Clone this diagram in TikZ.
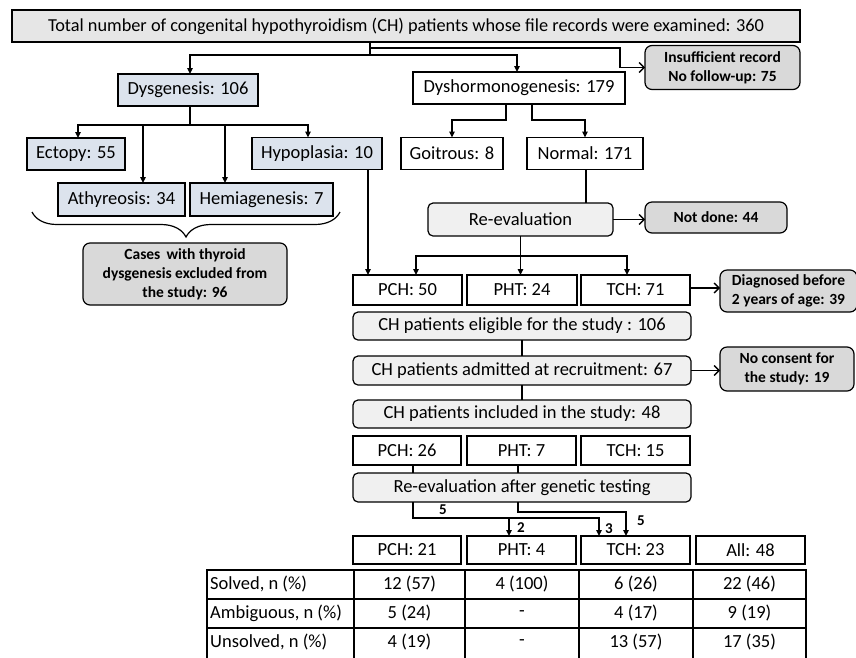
\documentclass[tikz,border=0pt]{standalone}
\usepackage{fontspec}
\setmainfont{Carlito}
\usetikzlibrary{arrows.meta,decorations.pathreplacing}
\definecolor{gtop}{HTML}{E6E6E6}
\definecolor{gside}{HTML}{D9D9D9}
\definecolor{glite}{HTML}{F0F0F0}
\definecolor{blueg}{HTML}{DCE3ED}
\tikzset{
  base/.style={draw, line width=1.2pt, inner sep=0pt, outer sep=0pt, align=center,
    font=\fontsize{18.5pt}{20pt}\selectfont},
  wbox/.style={base, fill=white},
  bbox/.style={base, fill=blueg, line width=1.6pt},
  gbox/.style={base, fill=glite, rounded corners=5pt},
  sbox/.style={base, fill=gside, rounded corners=7pt, font=\bfseries\fontsize{15.5pt}{19pt}\selectfont},
  conn/.style={line width=1.3pt},
  darr/.style={conn, -{Triangle[length=6pt,width=5.5pt]}},
  sarr/.style={conn, -{Straight Barb[length=5pt,width=10pt,line width=1.3pt]}},
  lab/.style={font=\bfseries\fontsize{15pt}{17pt}\selectfont, inner sep=0pt},
  tcell/.style={font=\fontsize{18.5pt}{20pt}\selectfont, inner sep=0pt},
  tline/.style={line width=1.6pt},
}
\begin{document}
\begin{tikzpicture}[x=1pt,y=-1pt]
\useasboundingbox (0,0) rectangle (856,657);
% nodes
\node[base, fill=gtop, minimum width=788pt, minimum height=32pt, font=\fontsize{18.3pt}{20pt}\selectfont] (top) at (406,26)
  {Total number of congenital hypothyroidism (CH) patients whose file records were examined: 360};
\node[sbox, minimum width=155pt, minimum height=44pt] (ins) at (722.5,67.5) {Insufficient record\\No follow-up: 75};
\node[bbox, minimum width=140pt, minimum height=32pt] (dys) at (188,90) {Dysgenesis: 106};
\node[wbox, minimum width=212pt, minimum height=32pt] (dysh) at (519,88) {Dyshormonogenesis: 179};
\node[bbox, minimum width=98pt, minimum height=32pt] (ect) at (76,154) {Ectopy: 55};
\node[bbox, minimum width=127pt, minimum height=33pt] (ath) at (121.5,199.5) {Athyreosis: 34};
\node[bbox, minimum width=143pt, minimum height=33pt] (hemi) at (261.5,199.5) {Hemiagenesis: 7};
\node[bbox, minimum width=130pt, minimum height=32pt] (hypo) at (317,153.5) {Hypoplasia: 10};
\node[wbox, minimum width=102pt, minimum height=32pt] (goit) at (452,153.5) {Goitrous: 8};
\node[wbox, minimum width=116pt, minimum height=32pt] (norm) at (585,153.5) {Normal: 171};
\node[sbox, minimum width=204pt, minimum height=62pt] (excl) at (185,274) {Cases\, with thyroid\\dysgenesis excluded from\\the study: 96};
\node[gbox, minimum width=185pt, minimum height=33pt] (reev) at (520.5,219.5) {Re-evaluation};
\node[sbox, minimum width=142pt, minimum height=31pt] (notdone) at (716,217.5) {Not done: 44};
\node[wbox, minimum width=109pt, minimum height=30pt] (pch50) at (407.5,290) {PCH: 50};
\node[wbox, minimum width=110pt, minimum height=30pt] (pht24) at (522,290) {PHT: 24};
\node[wbox, minimum width=109pt, minimum height=30pt] (tch71) at (635.5,290) {TCH: 71};
\node[sbox, minimum width=137pt, minimum height=42pt] (diag) at (788.5,291) {Diagnosed before\\2 years of age: 39};
\node[gbox, minimum width=338pt, minimum height=28pt] (elig) at (522,326) {CH patients eligible for the study : 106};
\node[gbox, minimum width=338pt, minimum height=29pt] (adm) at (522,370.5) {CH patients admitted at recruitment: 67};
\node[sbox, minimum width=134pt, minimum height=44pt] (nocons) at (787,369) {No consent for\\the study: 19};
\node[gbox, minimum width=338pt, minimum height=28pt] (incl) at (522,414) {CH patients included in the study: 48};
\node[wbox, minimum width=108pt, minimum height=29pt] (pch26) at (407,450.5) {PCH: 26};
\node[wbox, minimum width=109pt, minimum height=29pt] (pht7) at (521.5,450.5) {PHT: 7};
\node[wbox, minimum width=109pt, minimum height=29pt] (tch15) at (635.5,450.5) {TCH: 15};
\node[gbox, minimum width=338pt, minimum height=29pt] (reg) at (522,487.5) {Re-evaluation after genetic testing};
\node[wbox, minimum width=108pt, minimum height=28pt] (pch21) at (407,550) {PCH: 21};
\node[wbox, minimum width=109pt, minimum height=28pt] (pht4) at (521.5,550) {PHT: 4};
\node[wbox, minimum width=109pt, minimum height=28pt] (tch23) at (635.5,550) {TCH: 23};
\node[wbox, minimum width=109pt, minimum height=28pt] (all48) at (750.5,550) {All: 48};
% top connectors
\draw[conn] ([xshift=-36pt]top.south) -- ++(0,13) coordinate (tj);
\draw[darr] (tj) -| ([xshift=2pt]dys.north);
\draw[darr] (tj) -| ([xshift=-2pt]dysh.north);
\draw[sarr] ([xshift=-36pt]top.south) ++(0,6) -- ++(250,0) |- (ins.west);
% dysgenesis tree
\draw[line width=2.8pt] ([xshift=2pt]dys.south) -- ++(0,19) coordinate (db);
\draw[darr] (db) -| ([xshift=2pt]ect.north);
\draw[darr] (db) -| ([xshift=21.5pt]ath.north);
\draw[darr] (db) -| ([xshift=-36.5pt]hemi.north);
\draw[darr] (db) -| ([xshift=-9pt]hypo.north);
\draw[darr] ([xshift=51pt]hypo.south) -- ([xshift=-39.5pt]pch50.north);
\draw[line width=1.2pt, decorate, decoration={brace, amplitude=25pt, mirror}] (32,212) -- (340,212);
% dyshormonogenesis tree
\draw[darr] ([xshift=-13pt]dysh.south) -- ++(0,16) -| (goit.north);
\draw[darr] ([xshift=13pt]dysh.south) -- ++(0,16) -| (norm.north);
\draw[conn] ([xshift=1pt]norm.south) -- ([xshift=1pt]norm.south |- reev.north);
\draw[sarr] (reev.east) -- (reev.east -| notdone.west);
\draw[conn] (reev.south) -- ++(0,20) coordinate (rb);
\draw[darr] (rb) -| ([xshift=8.5pt]pch50.north);
\draw[darr] (rb) -| ([xshift=-8.5pt]tch71.north);
\draw[darr] (rb) -- (rb |- pht24.north);
\draw[sarr] ([yshift=2pt]tch71.east) -- ([yshift=2pt]tch71.east -| diag.west);
\draw[conn] (elig.south) -- (adm.north);
\draw[sarr] (adm.east) -- (adm.east -| nocons.west);
\draw[conn] (adm.south) -- (incl.north);
\draw[conn] ([xshift=6pt]pch26.south) -- ([xshift=-109pt]reg.north);
\draw[conn] ([xshift=-3.5pt]pht7.south) -- ([xshift=-4pt]reg.north);
\draw[darr] ([xshift=-109pt]reg.south) -- ++(0,16) -| ([xshift=-36.5pt]tch23.north);
\draw[darr] ([xshift=-12.5pt]pht4.north) ++(0,-18) -- ++(0,18);
\draw[darr] ([xshift=-4pt]reg.south) -- ++(0,10) -| ([xshift=-9.5pt]tch23.north);
\node[lab] (l5a) at (443,510) {5};
\node[lab] (l2) at (521,528) {2};
\node[lab] (l3) at (609,529) {3};
\node[lab] (l5b) at (641,521) {5};
% table
\draw[tline, line width=2pt] (207,662) -- (207,570) -- (806,570) -- (806,662);
\foreach \x in {354,465,579,693} \draw[tline] (\x,570) -- (\x,662);
\foreach \y in {599,628} \draw[tline] (207,\y) -- (806,\y);
\node[tcell, anchor=west] (r1) at (210,584.5) {Solved, n (\%)};
\node[tcell, anchor=west] (r2) at (210,613.5) {Ambiguous, n (\%)};
\node[tcell, anchor=west] (r3) at (210,642.5) {Unsolved, n (\%)};
\node[tcell] (c11) at (409.5,584.5) {12 (57)};
\node[tcell] (c12) at (522,584.5) {4 (100)};
\node[tcell] (c13) at (636,584.5) {6 (26)};
\node[tcell] (c14) at (749.5,584.5) {22 (46)};
\node[tcell] (c21) at (409.5,613.5) {5 (24)};
\node[tcell] (c22) at (522,613.5) {-};
\node[tcell] (c23) at (636,613.5) {4 (17)};
\node[tcell] (c24) at (749.5,613.5) {9 (19)};
\node[tcell] (c31) at (409.5,642.5) {4 (19)};
\node[tcell] (c32) at (522,642.5) {-};
\node[tcell] (c33) at (636,642.5) {13 (57)};
\node[tcell] (c34) at (749.5,642.5) {17 (35)};
\end{tikzpicture}
\end{document}
